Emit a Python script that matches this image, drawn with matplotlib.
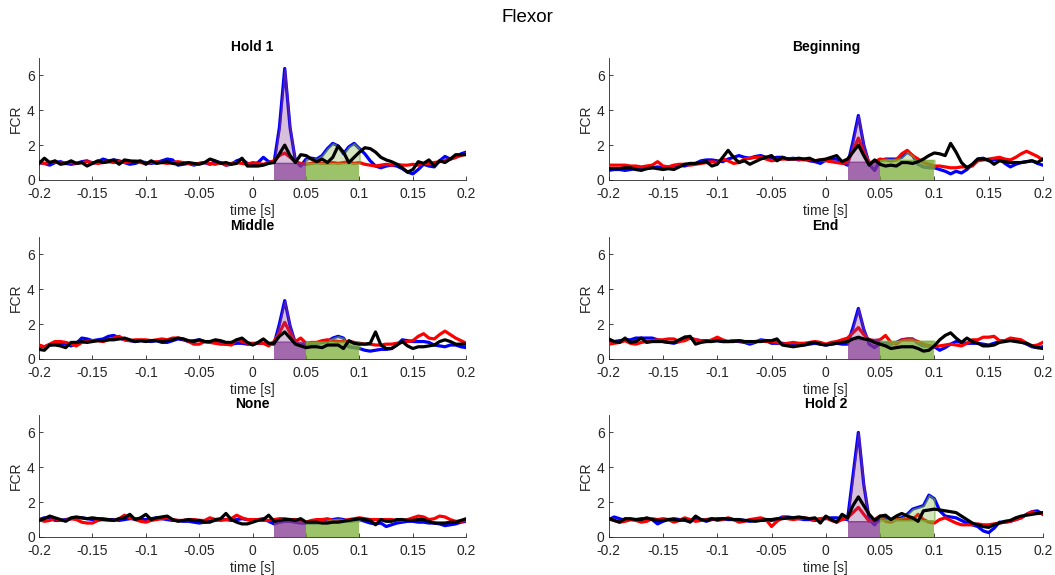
import numpy as np
import matplotlib
matplotlib.use("Agg")
import matplotlib.pyplot as plt

plt.rcParams['font.family'] = ['Liberation Sans', 'DejaVu Sans']

# time axis, 5 ms steps from -0.2 to 0.2 s
t = np.round(np.arange(-0.2, 0.2001, 0.005), 3)

titles = ["Hold 1", "Beginning", "Middle", "End", "None", "Hold 2"]

# blue trace per condition
blue = {
    "Hold 1": [1.0, 0.95, 0.85, 1.0, 1.05, 0.95, 0.9, 0.95, 1.05, 1.1,
               0.95, 1.05, 1.2, 1.1, 1.15, 1.1, 1.0, 0.9, 0.95, 1.05,
               1.0, 0.95, 1.0, 1.1, 1.2, 1.15, 0.85, 0.9, 0.95, 0.85,
               0.95, 1.0, 0.9, 1.05, 1.0, 0.85, 0.9, 1.1, 1.2, 0.95,
               0.85, 1.0, 1.3, 1.05, 1.0, 3.0, 6.4, 3.0, 1.1, 0.8,
               1.2, 1.25, 1.2, 1.4, 1.8, 2.1, 1.95, 1.5, 1.9, 2.1,
               1.8, 1.5, 1.1, 0.8, 0.7, 0.8, 0.85, 0.8, 0.65, 0.45,
               0.35, 0.6, 0.9, 0.8, 0.75, 1.1, 1.35, 1.2, 1.3, 1.5, 1.6],
    "Beginning": [0.55, 0.6, 0.6, 0.55, 0.6, 0.65, 0.7, 0.65, 0.7, 0.75,
                  0.7, 0.75, 0.8, 0.85, 0.8, 0.9, 0.95, 1.1, 1.15, 1.15,
                  1.1, 1.05, 1.2, 1.3, 1.4, 1.3, 1.25, 1.35, 1.4, 1.3,
                  1.25, 1.3, 1.3, 1.2, 1.25, 1.15, 1.2, 1.1, 1.05, 0.95,
                  1.15, 1.2, 1.2, 1.0, 0.85, 2.2, 3.7, 2.0, 0.9, 0.55,
                  1.1, 1.2, 1.2, 1.2, 1.3, 1.6, 1.4, 0.9, 0.75, 0.7,
                  0.7, 0.6, 0.5, 0.35, 0.5, 0.4, 0.6, 0.9, 1.2, 1.25,
                  1.1, 1.15, 1.2, 0.95, 0.75, 0.9, 1.0, 1.05, 1.1, 0.95, 0.85],
    "Middle": [0.75, 0.7, 0.8, 0.85, 0.9, 0.85, 0.75, 0.9, 1.2, 1.15,
               1.05, 1.1, 1.15, 1.3, 1.35, 1.2, 1.1, 1.05, 1.0, 1.05,
               1.05, 1.0, 1.05, 0.95, 0.95, 1.05, 1.15, 1.1, 1.0, 1.05,
               1.1, 1.0, 0.95, 0.95, 0.9, 0.85, 0.85, 0.9, 0.9, 0.85,
               0.85, 0.9, 0.9, 0.85, 0.85, 2.0, 3.35, 1.9, 0.9, 0.8,
               0.85, 0.85, 0.9, 0.95, 1.0, 1.2, 1.3, 1.2, 0.7, 0.65,
               0.6, 0.5, 0.45, 0.5, 0.55, 0.55, 0.6, 0.8, 1.1, 1.05,
               1.0, 1.0, 1.0, 0.95, 0.8, 0.75, 0.7, 0.8, 0.8, 0.7, 0.65],
    "End": [1.05, 1.0, 1.05, 1.1, 1.1, 1.2, 1.2, 1.2, 1.2, 1.1,
            1.0, 0.95, 0.9, 1.0, 1.25, 1.2, 1.1, 1.05, 1.05, 1.05,
            1.05, 1.0, 1.0, 1.05, 1.0, 0.95, 0.85, 0.95, 1.1, 1.05,
            0.9, 0.9, 0.9, 0.85, 0.85, 0.8, 0.8, 0.85, 0.9, 0.85,
            0.8, 0.85, 0.9, 0.85, 0.85, 1.8, 2.9, 1.7, 0.85, 0.65,
            0.9, 0.9, 0.85, 0.95, 1.1, 1.15, 1.15, 0.9, 0.75, 0.75,
            0.7, 0.5, 0.65, 0.85, 1.0, 0.95, 0.9, 0.9, 0.9, 0.85,
            0.8, 0.9, 1.0, 1.05, 1.1, 1.05, 1.0, 0.85, 0.7, 0.65, 0.7],
    "None": [1.0, 1.1, 1.1, 0.95, 0.95, 1.0, 1.05, 1.1, 1.1, 1.05,
             1.0, 1.05, 1.05, 1.0, 1.0, 0.95, 1.0, 1.05, 1.05, 1.0,
             1.0, 1.05, 1.1, 1.05, 1.0, 0.95, 0.95, 0.9, 0.9, 0.85,
             0.8, 0.85, 0.9, 0.95, 1.0, 1.0, 0.95, 1.0, 1.05, 1.0,
             0.95, 1.0, 1.05, 0.9, 0.75, 0.85, 0.9, 0.9, 0.85, 0.8,
             0.8, 0.8, 0.8, 0.85, 0.95, 1.0, 1.05, 1.0, 0.9, 0.95,
             1.0, 0.9, 0.8, 0.75, 0.8, 0.6, 0.7, 0.8, 0.85, 0.9,
             0.9, 0.85, 0.85, 0.8, 0.8, 0.75, 0.65, 0.7, 0.75, 0.85, 0.9],
    "Hold 2": [1.0, 1.15, 1.05, 0.95, 1.0, 1.0, 1.05, 1.05, 1.0, 0.75,
               0.9, 1.0, 1.05, 1.0, 0.95, 0.9, 1.0, 1.0, 0.9, 1.0,
               1.05, 1.05, 1.0, 1.0, 1.0, 0.95, 0.9, 0.95, 0.95, 0.95,
               0.95, 1.0, 1.15, 1.15, 1.1, 1.05, 1.0, 1.0, 0.95, 1.05,
               1.05, 1.1, 1.1, 1.05, 1.0, 3.5, 6.0, 3.0, 1.0, 0.7,
               1.1, 1.05, 1.0, 1.05, 1.1, 1.3, 1.6, 1.7, 1.8, 2.4,
               2.2, 1.5, 1.2, 1.15, 1.1, 0.95, 0.8, 0.7, 0.6, 0.35,
               0.25, 0.5, 0.85, 0.85, 0.9, 1.0, 1.1, 1.3, 1.45, 1.5, 1.3],
}

# red trace per condition
red = {
    "Hold 1": [1.0, 0.95, 1.0, 1.05, 0.95, 1.0, 1.0, 0.95, 1.0, 1.05,
               1.0, 0.95, 1.0, 1.05, 1.0, 1.05, 1.0, 1.05, 1.1, 1.0,
               0.95, 1.0, 1.05, 1.0, 0.95, 1.0, 1.05, 1.0, 0.95, 0.9,
               0.95, 1.0, 0.95, 0.9, 1.0, 0.85, 0.95, 1.0, 0.95, 0.9,
               1.0, 0.95, 0.9, 1.0, 1.1, 1.4, 1.55, 1.3, 1.05, 0.95,
               0.9, 0.95, 1.0, 0.95, 0.95, 1.0, 0.95, 1.0, 1.05, 0.95,
               1.0, 0.9, 0.85, 0.8, 0.85, 0.9, 0.85, 0.9, 0.85, 0.85,
               0.9, 0.85, 0.95, 0.95, 1.0, 1.05, 1.1, 1.2, 1.3, 1.4, 1.5],
    "Beginning": [0.85, 0.85, 0.85, 0.85, 0.8, 0.8, 0.75, 0.8, 0.85, 1.05,
                  0.8, 0.75, 0.85, 0.9, 0.9, 0.85, 0.9, 0.95, 1.0, 1.05,
                  1.0, 1.2, 1.1, 0.95, 1.0, 1.2, 1.25, 1.3, 1.3, 1.2,
                  1.1, 1.15, 1.2, 1.2, 1.2, 1.2, 1.15, 1.2, 1.1, 1.15,
                  1.1, 1.05, 1.0, 0.95, 1.0, 1.7, 2.4, 1.6, 1.0, 1.05,
                  1.2, 1.15, 1.1, 1.15, 1.5, 1.7, 1.4, 1.2, 1.0, 0.9,
                  0.8, 0.8, 0.75, 0.7, 0.7, 0.75, 0.75, 0.8, 1.1, 1.15,
                  1.2, 1.25, 1.3, 1.2, 1.15, 1.3, 1.5, 1.65, 1.5, 1.35, 1.15],
    "Middle": [0.8, 0.7, 0.85, 1.0, 1.0, 0.95, 0.85, 0.75, 0.95, 1.0,
               1.05, 1.05, 1.0, 1.1, 1.2, 1.3, 1.1, 1.05, 1.1, 1.1,
               1.1, 1.05, 1.1, 1.15, 1.1, 1.2, 1.2, 1.15, 1.0, 0.85,
               0.85, 1.0, 0.95, 0.9, 0.85, 0.85, 0.8, 1.1, 1.0, 0.9,
               0.9, 0.9, 0.9, 0.75, 1.0, 1.5, 2.1, 1.5, 1.0, 1.2,
               0.9, 0.95, 0.95, 1.05, 1.1, 1.05, 1.0, 1.0, 1.0, 0.95,
               0.9, 0.85, 0.85, 0.8, 0.8, 0.85, 0.85, 0.9, 0.95, 1.0,
               1.05, 1.3, 1.45, 1.2, 1.15, 1.4, 1.6, 1.4, 1.2, 1.05, 0.9],
    "End": [0.85, 0.9, 0.95, 1.05, 0.9, 0.85, 0.95, 1.0, 1.05, 1.1,
            1.1, 1.15, 1.15, 1.0, 1.05, 1.2, 1.1, 1.05, 1.0, 1.1,
            1.25, 1.1, 1.0, 1.05, 1.05, 1.0, 0.95, 1.0, 1.05, 1.0,
            1.0, 0.95, 0.85, 0.9, 0.95, 0.9, 0.9, 0.95, 1.0, 0.95,
            0.85, 0.95, 1.0, 1.1, 1.2, 1.5, 1.8, 1.4, 1.1, 1.05,
            1.1, 1.35, 0.95, 0.85, 1.1, 1.1, 1.1, 1.0, 0.85, 0.75,
            0.7, 0.75, 0.8, 0.85, 0.8, 0.75, 0.9, 1.1, 1.1, 1.25,
            1.25, 1.3, 1.05, 1.05, 1.2, 1.15, 1.1, 0.9, 0.75, 0.8, 0.95],
    "None": [1.0, 0.9, 0.95, 1.05, 0.95, 0.95, 1.05, 1.0, 0.85, 0.8,
             0.8, 0.95, 1.0, 0.95, 0.95, 1.05, 1.25, 1.1, 1.0, 0.9,
             0.85, 0.95, 1.0, 1.05, 1.1, 1.0, 0.95, 0.95, 1.0, 1.0,
             0.95, 0.95, 1.1, 1.0, 0.95, 1.0, 1.05, 1.25, 1.1, 1.0,
             1.0, 1.0, 0.95, 0.95, 1.0, 1.05, 1.05, 1.0, 1.0, 0.9,
             0.85, 0.95, 1.0, 1.0, 1.05, 0.95, 0.9, 0.95, 1.0, 1.05,
             1.1, 1.05, 1.0, 1.0, 1.0, 1.0, 1.0, 0.95, 0.95, 1.0,
             1.1, 1.2, 1.15, 1.0, 1.05, 1.2, 1.15, 1.0, 0.9, 0.9, 0.95],
    "Hold 2": [1.05, 0.95, 0.85, 0.9, 1.0, 0.95, 0.85, 0.9, 1.05, 1.0,
               1.05, 1.0, 0.85, 0.95, 1.1, 1.0, 0.9, 0.95, 1.0, 1.05,
               0.95, 1.0, 1.1, 1.0, 0.85, 0.9, 1.0, 1.05, 1.1, 1.0,
               0.6, 0.9, 1.1, 1.05, 1.0, 1.05, 1.1, 1.05, 1.0, 1.05,
               1.1, 0.95, 0.85, 1.0, 1.1, 1.4, 1.7, 1.3, 0.9, 1.0,
               1.2, 0.9, 0.85, 1.0, 1.0, 1.0, 1.0, 1.3, 1.0, 0.85,
               0.8, 1.0, 1.1, 0.95, 0.8, 0.7, 0.7, 0.7, 0.75, 0.7,
               0.7, 0.75, 0.8, 0.85, 0.9, 1.0, 1.1, 1.3, 1.45, 1.35, 1.35],
}

# black trace per condition
black = {
    "Hold 1": [0.95, 1.25, 1.0, 1.1, 0.9, 0.95, 1.1, 0.95, 1.0, 0.8,
               0.95, 1.1, 1.0, 1.05, 1.15, 0.9, 1.15, 1.1, 1.05, 1.1,
               0.9, 1.1, 0.95, 1.0, 1.05, 0.95, 0.9, 0.95, 1.0, 0.95,
               0.9, 1.0, 1.2, 1.1, 0.95, 1.0, 0.9, 0.95, 1.25, 0.8,
               0.8, 0.8, 0.85, 0.95, 1.0, 1.5, 2.0, 1.4, 1.0, 1.45,
               1.4, 1.2, 1.05, 1.2, 1.0, 1.3, 1.95, 1.6, 1.0, 1.3,
               1.6, 1.85, 1.8, 1.6, 1.3, 1.15, 1.05, 0.9, 0.7, 0.45,
               0.6, 1.05, 0.95, 1.15, 0.8, 1.1, 1.0, 1.2, 1.45, 1.45, 1.45],
    "Beginning": [0.65, 0.65, 0.65, 0.7, 0.7, 0.6, 0.55, 0.65, 0.7, 0.65,
                  0.6, 0.65, 0.6, 0.75, 0.9, 0.95, 0.95, 1.0, 1.05, 0.8,
                  0.9, 1.3, 1.7, 1.3, 1.0, 1.1, 0.9, 1.05, 1.2, 1.3,
                  1.4, 1.1, 1.3, 1.2, 1.2, 1.25, 1.2, 1.25, 1.1, 1.15,
                  1.2, 1.3, 1.4, 1.05, 1.2, 1.6, 2.0, 1.4, 0.85, 1.15,
                  0.9, 0.8, 0.85, 0.8, 1.0, 1.0, 0.95, 1.05, 1.2, 1.4,
                  1.55, 1.5, 1.4, 2.1, 1.6, 1.0, 0.7, 0.9, 1.2, 1.2,
                  1.15, 0.9, 1.1, 1.05, 1.0, 1.0, 1.0, 1.05, 1.1, 1.0, 1.2],
    "Middle": [0.55, 0.5, 0.8, 0.8, 0.75, 0.65, 0.95, 0.95, 1.0, 0.95,
               1.0, 1.05, 1.05, 1.1, 1.1, 1.15, 1.2, 1.1, 1.0, 1.05,
               1.0, 1.05, 1.05, 1.0, 1.05, 1.1, 1.2, 1.15, 1.05, 1.0,
               1.1, 1.0, 1.0, 1.1, 1.05, 0.95, 0.95, 1.1, 1.2, 0.95,
               0.8, 0.95, 1.15, 0.9, 0.9, 1.3, 1.55, 1.2, 0.85, 0.75,
               0.65, 0.7, 0.7, 0.65, 0.8, 0.8, 0.8, 0.6, 1.05, 0.9,
               0.85, 0.85, 0.9, 1.55, 0.8, 0.6, 0.6, 0.8, 1.0, 0.75,
               0.6, 0.7, 0.7, 0.75, 0.8, 1.0, 1.1, 1.0, 0.85, 0.85, 0.85],
    "End": [1.15, 1.0, 0.95, 1.2, 0.95, 1.0, 1.2, 0.95, 1.0, 1.0,
            1.0, 0.95, 0.95, 1.1, 1.25, 1.3, 0.85, 0.95, 1.0, 1.0,
            1.05, 1.0, 1.0, 1.0, 1.05, 1.0, 1.0, 1.0, 1.0, 1.05,
            1.05, 1.15, 0.8, 0.75, 0.7, 0.75, 0.8, 0.9, 0.95, 0.85,
            0.8, 0.85, 0.9, 0.95, 1.0, 1.15, 1.25, 1.15, 1.1, 0.95,
            0.85, 0.75, 0.6, 0.65, 0.7, 0.7, 0.7, 0.6, 0.45, 0.5,
            0.75, 1.1, 1.35, 1.5, 1.2, 0.95, 1.2, 1.0, 0.9, 0.75,
            0.75, 0.8, 0.95, 1.0, 1.05, 1.0, 0.95, 0.9, 0.75, 0.65, 0.6],
    "None": [0.95, 1.05, 1.2, 1.1, 1.0, 0.9, 1.1, 1.15, 1.1, 1.05,
             1.1, 1.05, 1.0, 1.0, 0.95, 1.05, 1.1, 1.3, 1.0, 1.1,
             1.3, 1.0, 1.1, 1.15, 1.2, 1.0, 0.9, 0.95, 1.0, 0.95,
             0.95, 0.85, 0.85, 1.0, 1.05, 1.35, 1.0, 0.85, 0.75, 0.75,
             0.85, 0.95, 1.0, 1.25, 0.9, 0.95, 1.0, 1.0, 0.95, 1.05,
             0.85, 0.85, 0.85, 0.8, 0.8, 0.85, 0.85, 0.9, 0.95, 1.0,
             1.05, 1.0, 0.95, 0.7, 1.0, 0.9, 0.9, 1.0, 1.0, 0.95,
             0.95, 1.0, 1.0, 0.9, 0.8, 0.8, 0.8, 0.85, 0.85, 0.95, 1.05],
    "Hold 2": [1.05, 0.95, 0.85, 1.05, 1.05, 1.0, 1.0, 1.1, 1.0, 0.95,
               0.95, 1.0, 1.0, 0.95, 1.0, 0.85, 1.2, 1.0, 0.95, 1.05,
               1.0, 1.05, 1.05, 1.0, 1.0, 0.95, 0.95, 0.9, 0.95, 1.0,
               1.0, 1.05, 1.05, 1.1, 1.1, 1.15, 1.1, 1.05, 1.1, 0.8,
               1.2, 1.0, 0.85, 1.3, 1.1, 1.8, 2.3, 1.8, 1.3, 0.95,
               1.2, 1.25, 1.0, 1.2, 1.35, 1.2, 1.1, 0.9, 1.5, 1.55,
               1.6, 1.55, 1.5, 1.45, 1.4, 1.2, 1.0, 0.8, 0.7, 0.6,
               0.55, 0.7, 0.8, 0.9, 0.95, 1.1, 1.2, 1.25, 1.3, 1.35, 1.4],
}

# level of the solid part of the shaded windows (early, late)
base_early = {"Hold 1": 0.98, "Beginning": 1.05, "Middle": 1.0,
              "End": 1.15, "None": 0.9, "Hold 2": 0.9}
base_late = {"Hold 1": 0.95, "Beginning": 1.15, "Middle": 1.0,
             "End": 1.05, "None": 0.9, "Hold 2": 0.95}

early_win = (0.02, 0.05)
late_win = (0.05, 0.1)

xticks = [-0.2, -0.15, -0.1, -0.05, 0, 0.05, 0.1, 0.15, 0.2]
xticklabels = ["-0.2", "-0.15", "-0.1", "-0.05", "0", "0.05", "0.1", "0.15", "0.2"]

purple = (0.494, 0.184, 0.556)
green = (0.466, 0.674, 0.188)
axcol = (0.15, 0.15, 0.15)

fig = plt.figure(figsize=(10.55, 5.75), dpi=100)
fig.suptitle("Flexor", fontsize=13.5, y=0.985)

lefts = [0.037, 0.577]
widths = [0.405, 0.4115]
bottoms = [0.687, 0.3757, 0.0661]
h = 0.2122

for i, name in enumerate(titles):
    r, c = divmod(i, 2)
    ax = fig.add_axes([lefts[c], bottoms[r], widths[c], h])
    b = np.array(blue[name])
    rd = np.array(red[name])
    k = np.array(black[name])

    ax.plot(t, b, color=(0, 0, 1), lw=2.3, zorder=2)
    ax.plot(t, rd, color=(1, 0, 0), lw=2.3, zorder=3)

    for win, base, col in [(early_win, base_early[name], purple),
                           (late_win, base_late[name], green)]:
        m = (t >= win[0] - 1e-9) & (t <= win[1] + 1e-9)
        # light area between baseline and blue trace
        ax.fill_between(t[m], base, b[m], facecolor=col + (0.3,),
                        edgecolor=col + (0.55,), lw=1.2, zorder=4)
        # solid block up to the baseline
        ax.fill_between(t[m], 0, base, facecolor=col + (0.72,),
                        edgecolor='none', zorder=4)

    ax.plot(t, k, color='black', lw=2.3, zorder=5)

    ax.set_xlim(-0.2, 0.2)
    ax.set_ylim(0, 7)
    ax.set_xticks(xticks)
    ax.set_xticklabels(xticklabels)
    ax.set_yticks([0, 2, 4, 6])
    ax.spines['top'].set_visible(False)
    ax.spines['right'].set_visible(False)
    for s in ['left', 'bottom']:
        ax.spines[s].set_color(axcol)
        ax.spines[s].set_linewidth(0.6)
    ax.tick_params(direction='in', length=3, width=0.6, colors=axcol,
                   labelsize=10)
    ax.tick_params(axis='x', pad=5)
    ax.tick_params(axis='y', pad=3)
    ax.set_title(name, fontsize=10, fontweight='bold', pad=5)
    ax.set_xlabel("time [s]", fontsize=10, color=axcol, labelpad=2)
    ax.set_ylabel("FCR", fontsize=10, color=axcol, labelpad=3)

fig.savefig("out.png", dpi=100)
